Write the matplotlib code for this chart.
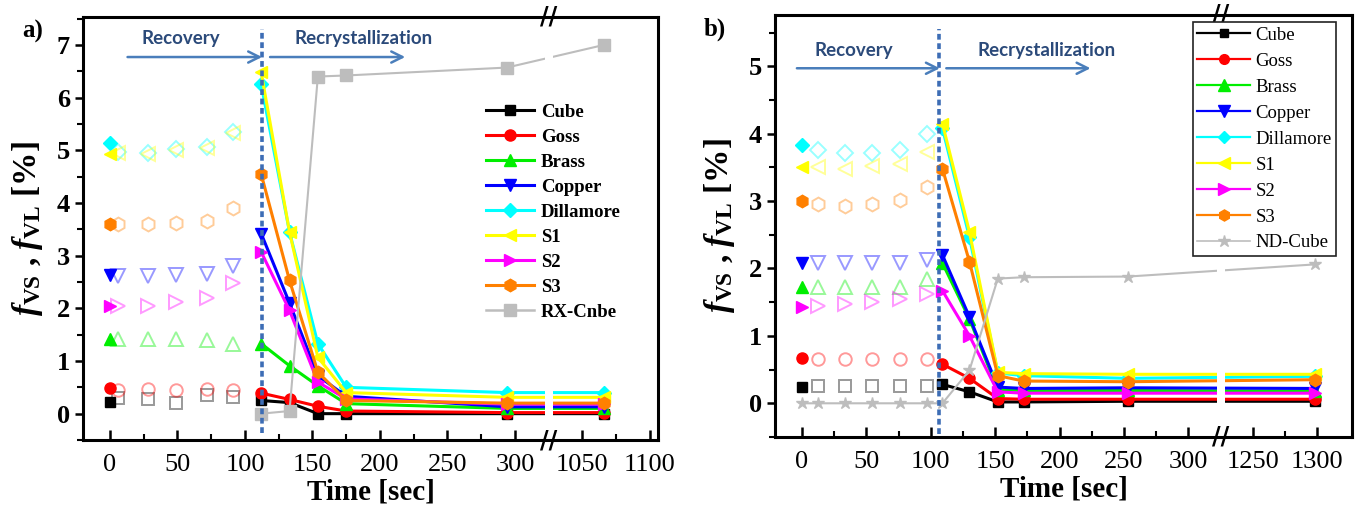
import numpy as np
import matplotlib
matplotlib.use("Agg")
import matplotlib.pyplot as plt
from matplotlib.lines import Line2D

plt.rcParams['font.family'] = ['Liberation Serif', 'DejaVu Serif']
plt.rcParams['mathtext.fontset'] = 'custom'
plt.rcParams['mathtext.rm'] = 'Liberation Serif:bold'
plt.rcParams['mathtext.it'] = 'Liberation Serif:italic:bold'
plt.rcParams['mathtext.bf'] = 'Liberation Serif:bold'

# ---------------- data ----------------
textures = ["Cube", "Goss", "Brass", "Copper", "Dillamore", "S1", "S2", "S3"]

# panel a: index 0 = start (filled), 1-5 = recovery (hollow), 6-11 = recrystallization line
a_time = [0, 6, 28, 49, 72, 91, 112, 133, 154, 175, 294, 1066]
a_cube = [0.22, 0.30, 0.28, 0.20, 0.35, 0.32, 0.25, 0.21, 0.00, 0.00, 0.00, 0.00]
a_goss = [0.48, 0.45, 0.46, 0.45, 0.46, 0.44, 0.39, 0.27, 0.14, 0.05, 0.02, 0.02]
a_brass = [1.42, 1.42, 1.42, 1.42, 1.40, 1.33, 1.33, 0.91, 0.53, 0.19, 0.10, 0.10]
a_copper = [2.63, 2.62, 2.62, 2.63, 2.65, 2.81, 3.42, 2.10, 0.72, 0.33, 0.13, 0.13]
a_dillamore = [5.13, 4.97, 4.95, 5.02, 5.07, 5.35, 6.25, 3.45, 1.33, 0.50, 0.40, 0.40]
a_s1 = [4.92, 4.95, 4.93, 5.00, 5.05, 5.33, 6.48, 3.45, 1.07, 0.40, 0.31, 0.31]
a_s2 = [2.05, 2.05, 2.05, 2.12, 2.20, 2.48, 3.07, 1.96, 0.60, 0.28, 0.18, 0.18]
a_s3 = [3.60, 3.60, 3.60, 3.62, 3.65, 3.90, 4.55, 2.53, 0.79, 0.25, 0.20, 0.20]
a_rx_time = [112, 133, 154, 175, 294, 1066]
a_rx_cube = [0.00, 0.05, 6.40, 6.42, 6.57, 7.00]
a_xticks = [0, 50, 100, 150, 200, 250, 300, 1050, 1100]
a_yticks = [0, 1, 2, 3, 4, 5, 6, 7]

# panel b
b_time = [0, 12, 33, 54, 76, 97, 109, 130, 152, 172, 253, 1298]
b_cube = [0.24, 0.25, 0.25, 0.25, 0.25, 0.25, 0.28, 0.17, 0.02, 0.02, 0.03, 0.03]
b_goss = [0.67, 0.66, 0.66, 0.66, 0.66, 0.66, 0.58, 0.37, 0.07, 0.06, 0.06, 0.06]
b_brass = [1.73, 1.73, 1.73, 1.72, 1.73, 1.85, 2.08, 1.25, 0.20, 0.19, 0.19, 0.18]
b_copper = [2.08, 2.08, 2.08, 2.08, 2.08, 2.12, 2.20, 1.28, 0.24, 0.22, 0.23, 0.22]
b_dillamore = [3.83, 3.75, 3.72, 3.72, 3.75, 4.00, 4.08, 2.46, 0.45, 0.41, 0.37, 0.40]
b_s1 = [3.50, 3.50, 3.48, 3.52, 3.55, 3.73, 4.15, 2.54, 0.46, 0.44, 0.43, 0.43]
b_s2 = [1.43, 1.45, 1.47, 1.50, 1.55, 1.62, 1.67, 1.00, 0.17, 0.15, 0.15, 0.15]
b_s3 = [3.00, 2.95, 2.92, 2.95, 3.02, 3.21, 3.48, 2.10, 0.41, 0.33, 0.32, 0.35]
b_nd_time = [0, 12, 33, 54, 76, 97, 109, 130, 152, 172, 253, 1298]
b_nd_cube = [0.00, 0.00, 0.00, 0.00, 0.00, 0.00, 0.00, 0.49, 1.85, 1.87, 1.88, 2.06]
b_xticks = [0, 50, 100, 150, 200, 250, 300, 1250, 1300]
b_yticks = [0, 1, 2, 3, 4, 5]

# ---------------- styles ----------------
colors = ["#000000", "#FF0000", "#00EE00", "#0000FF", "#00FFFF", "#FFFF00", "#FF00FF", "#FF8000"]
markers = ["s", "o", "^", "v", "D", "<", ">", "h"]
msizes = [7, 8, 9, 9, 7, 9, 9, 9]
grey = "#BDBDBD"
arrow_col = "#4A7EBB"
text_col = "#2B4A7A"
vline_col = "#3D6DB5"


def make_scale(lo, hi):
    xs = np.array([-1e5, lo, hi, 1e5])
    ps = np.array([-1e5, lo, lo + 0.5, lo + 0.5 + 1e5 - hi])
    return (lambda t: np.interp(t, xs, ps)), (lambda p: np.interp(p, ps, xs))


fig = plt.figure(figsize=(13.6, 5.12), dpi=100)
axa = fig.add_axes([83 / 1360, 72 / 512, 575 / 1360, 423 / 512])
axb = fig.add_axes([775 / 1360, 75 / 512, 577 / 1360, 422 / 512])


def draw(ax, time, series, brk_hi, xticks, xminor, xlim, ylim, yticks, vline_x, vline_y,
         arrows, labels_pos):
    fwd, inv = make_scale(325, brk_hi)
    ax.set_xscale('function', functions=(fwd, inv))
    for vals, c, m, ms in zip(series, colors, markers, msizes):
        ax.plot(time[1:6], vals[1:6], ls='none', marker=m, ms=ms + 1, mfc='none',
                mec=c, mew=1.4, alpha=0.4, zorder=1.5)
        ax.plot(time[:1], vals[:1], ls='none', marker=m, ms=ms, color=c, zorder=3)
        ax.plot(time[6:], vals[6:], color=c, lw=2.2, marker=m, ms=ms, zorder=2)
    ax.set_xlim(*xlim)
    ax.set_ylim(*ylim)
    ax.set_xticks(xticks)
    ax.set_xticklabels([str(t) for t in xticks])
    ax.set_xticks(xminor, minor=True)
    ax.set_yticks(yticks)
    ax.set_yticks(np.arange(yticks[0] - 0.5, yticks[-1] + 0.6, 1.0), minor=True)
    ax.tick_params(axis='x', which='major', direction='in', length=7, width=1.8,
                   labelsize=19, pad=10, top=False)
    ax.tick_params(axis='x', which='minor', direction='in', length=4, width=1.5, top=False)
    ax.tick_params(axis='y', which='major', direction='out', length=6, width=1.8,
                   labelsize=19, right=False)
    ax.tick_params(axis='y', which='minor', direction='out', length=4, width=1.5, right=False)
    for lab in ax.get_yticklabels():
        lab.set_fontweight('bold')
    for sp in ax.spines.values():
        sp.set_linewidth(2.2)
    ax.axvline(vline_x, ymin=(vline_y[0] - ylim[0]) / (ylim[1] - ylim[0]),
               ymax=(vline_y[1] - ylim[0]) / (ylim[1] - ylim[0]),
               color=vline_col, lw=2.6, ls=(0, (1.6, 1.0)), zorder=2.6)
    # axis break
    ax.axvspan(inv(322), inv(328.5), ymin=0.004, ymax=0.996, color='white', zorder=2.4, lw=0)
    for yy in (0, 1):
        ax.text(inv(325.2), yy, '//', transform=ax.get_xaxis_transform(), ha='center',
                va='center', fontsize=17, fontweight='bold', family='DejaVu Sans',
                clip_on=False, zorder=10)
    # recovery / recrystallization annotations
    (r0, r1, c0, c1, ay) = arrows
    for s, e in ((r0, r1), (c0, c1)):
        ax.annotate('', xy=(e, ay), xytext=(s, ay),
                    arrowprops=dict(arrowstyle='->', color=arrow_col, lw=1.8,
                                    shrinkA=0, shrinkB=0, mutation_scale=20), zorder=4)
    (tx0, tx1, ty) = labels_pos
    ax.text(tx0, ty, 'Recovery', color=text_col, fontsize=13.5, fontweight='bold',
            family=['Lato', 'DejaVu Sans'], ha='center', va='center')
    ax.text(tx1, ty, 'Recrystallization', color=text_col, fontsize=13.5, fontweight='bold',
            family=['Lato', 'DejaVu Sans'], ha='center', va='center')
    ax.set_xlabel('Time [sec]', fontsize=21, fontweight='bold', labelpad=2)
    ax.set_ylabel(r'$\mathit{f}_{\mathbf{VS}}$ , $\mathit{f}_{\mathbf{VL}}$ [%]',
                  fontsize=24, fontweight='bold', labelpad=8)


series_a = [a_cube, a_goss, a_brass, a_copper, a_dillamore, a_s1, a_s2, a_s3]
draw(axa, a_time, series_a, 1025.5, a_xticks,
     [25, 75, 125, 175, 225, 275, 1075], (-20, 1106), (-0.5, 7.53), a_yticks,
     112.7, (-0.37, 7.3), (13, 112.7, 118.6, 218.7, 6.77), (52.6, 187.5, 7.13))
axa.plot(a_rx_time, a_rx_cube, color=grey, lw=1.5, marker='s', ms=8, zorder=2.1)

series_b = [b_cube, b_goss, b_brass, b_copper, b_dillamore, b_s1, b_s2, b_s3]
axb.plot(b_nd_time, b_nd_cube, color=grey, lw=1.5, marker='*', ms=9, zorder=2.1)
draw(axb, b_time, series_b, 1225.5, b_xticks,
     [25, 75, 125, 175, 225, 275, 1275], (-21, 1327), (-0.5, 5.76), b_yticks,
     106, (-0.45, 5.55), (-4, 107, 112, 224, 4.97), (40, 190, 5.24))

# legends
ha = [Line2D([], [], color=c, marker=m, ms=ms, lw=2.2) for c, m, ms in zip(colors, markers, msizes)]
ha.append(Line2D([], [], color=grey, marker='s', ms=8, lw=1.8))
axa.legend(ha, textures + ["RX-Cnbe"], loc='upper left', bbox_to_anchor=(0.70, 0.795),
           frameon=False, prop={'weight': 'bold', 'size': 13.5}, handlelength=2.6,
           handletextpad=0.35, labelspacing=0.42, borderpad=0, borderaxespad=0)

hb = [Line2D([], [], color=c, marker=m, ms=ms - 1, lw=1.6) for c, m, ms in zip(colors, markers, msizes)]
hb.append(Line2D([], [], color=grey, marker='*', ms=9, lw=1.2))
lg = axb.legend(hb, textures + ["ND-Cube"], loc='upper left', bbox_to_anchor=(0.724, 0.983),
                frameon=True, fancybox=False, edgecolor='#222222', framealpha=1,
                prop={'size': 13.5}, handlelength=2.8, handletextpad=0.3,
                labelspacing=0.47, borderpad=0.25, borderaxespad=0)
lg.get_frame().set_linewidth(1.2)
lg.set_zorder(12)

fig.text(33 / 1360, 1 - 31 / 512, 'a)', fontsize=18, fontweight='bold', ha='center', va='center')
fig.text(715 / 1360, 1 - 29 / 512, 'b)', fontsize=18, fontweight='bold', ha='center', va='center')

fig.savefig('out.png', dpi=100, facecolor='white')
